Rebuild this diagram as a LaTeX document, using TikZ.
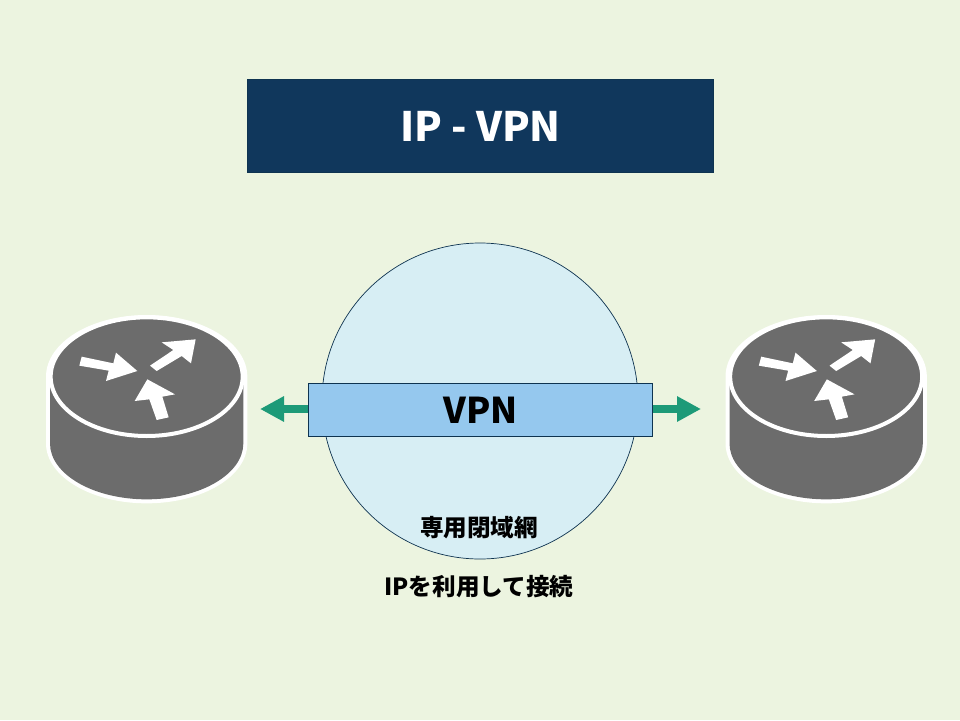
\documentclass[tikz,border=0pt]{standalone}
\usepackage{fontspec}
\usetikzlibrary{arrows.meta}
\newfontfamily\cjkb{Noto Sans CJK JP}
\definecolor{bgc}{HTML}{ECF4E0}
\definecolor{titlec}{HTML}{10375C}
\definecolor{circc}{HTML}{D7EEF4}
\definecolor{vpnc}{HTML}{95C8EE}
\definecolor{edgec}{HTML}{0E3350}
\definecolor{greenc}{HTML}{1D9A78}
\definecolor{routerc}{HTML}{6C6C6C}
\tikzset{
  titlebox/.style={draw=edgec,line width=0.7pt,fill=titlec,text=white,minimum width=466pt,minimum height=93pt,inner sep=0pt,font=\cjkb\bfseries\fontsize{40.5}{44}\selectfont},
  cloudnode/.style={circle,draw=edgec,line width=0.7pt,fill=circc,minimum size=316pt,inner sep=0pt},
  vpnbox/.style={draw=edgec,line width=0.8pt,fill=vpnc,minimum width=344pt,minimum height=53pt,inner sep=0pt,font=\cjkb\bfseries\fontsize{35.5}{40}\selectfont},
  smalltext/.style={inner sep=0pt,font=\cjkb\bfseries\fontsize{23.6}{28}\selectfont},
  link/.style={draw=greenc,line width=8pt,-{Triangle[length=24pt,width=24pt]}},
  routerwhite/.style={fill=white},
  routergray/.style={fill=routerc},
  routerface/.style={draw=white,line width=4pt,fill=routerc},
  routerarrow/.style={fill=white},
  pics/router/.style={code={
    \begin{scope}[x=0.33333pt,y=-0.33333pt]
    \path[routerwhite] (48,230) arc[start angle=180,end angle=360,x radius=302,y radius=185] -- (652,430) arc[start angle=0,end angle=180,x radius=302,y radius=180] -- cycle;
    \path[routergray] (60,240) -- (640,240) -- (640,430) arc[start angle=0,end angle=180,x radius=290,y radius=168] -- cycle;
    \path[routerface] (350,230) ellipse[x radius=288,y radius=178];
    \path[routerarrow] (155,170) -- (250,190) -- (258,158) -- (322,213) -- (228,243) -- (236,212) -- (148,197) -- cycle;
    \path[routerarrow] (360,197) -- (430,150) -- (395,127) -- (497,118) -- (483,190) -- (455,168) -- (380,213) -- cycle;
    \path[routerarrow] (352,238) -- (435,283) -- (397,290) -- (416,352) -- (380,360) -- (358,298) -- (314,303) -- cycle;
    \end{scope}
  }}
}
\begin{document}
\begin{tikzpicture}[x=1pt,y=-1pt]
\useasboundingbox (0,0) rectangle (960,720);
\fill[bgc] (0,0) rectangle (960,720);
\node[titlebox] (title) at (480.5,126) {IP - VPN};
\node[cloudnode] (cloud) at (480,401) {};
\pic at (30,300) {router};
\pic at (709.5,300) {router};
\coordinate (ltip) at (260,409);
\coordinate (rtip) at (701,409);
\node[vpnbox] (vpn) at (480.5,410) {VPN};
\draw[link] (vpn.west |- ltip) -- (ltip);
\draw[link] (vpn.east |- rtip) -- (rtip);
\node[smalltext] (closed) at (479,528) {専用閉域網};
\node[smalltext] (ip) at (479,587) {IPを利用して接続};
\end{tikzpicture}
\end{document}
